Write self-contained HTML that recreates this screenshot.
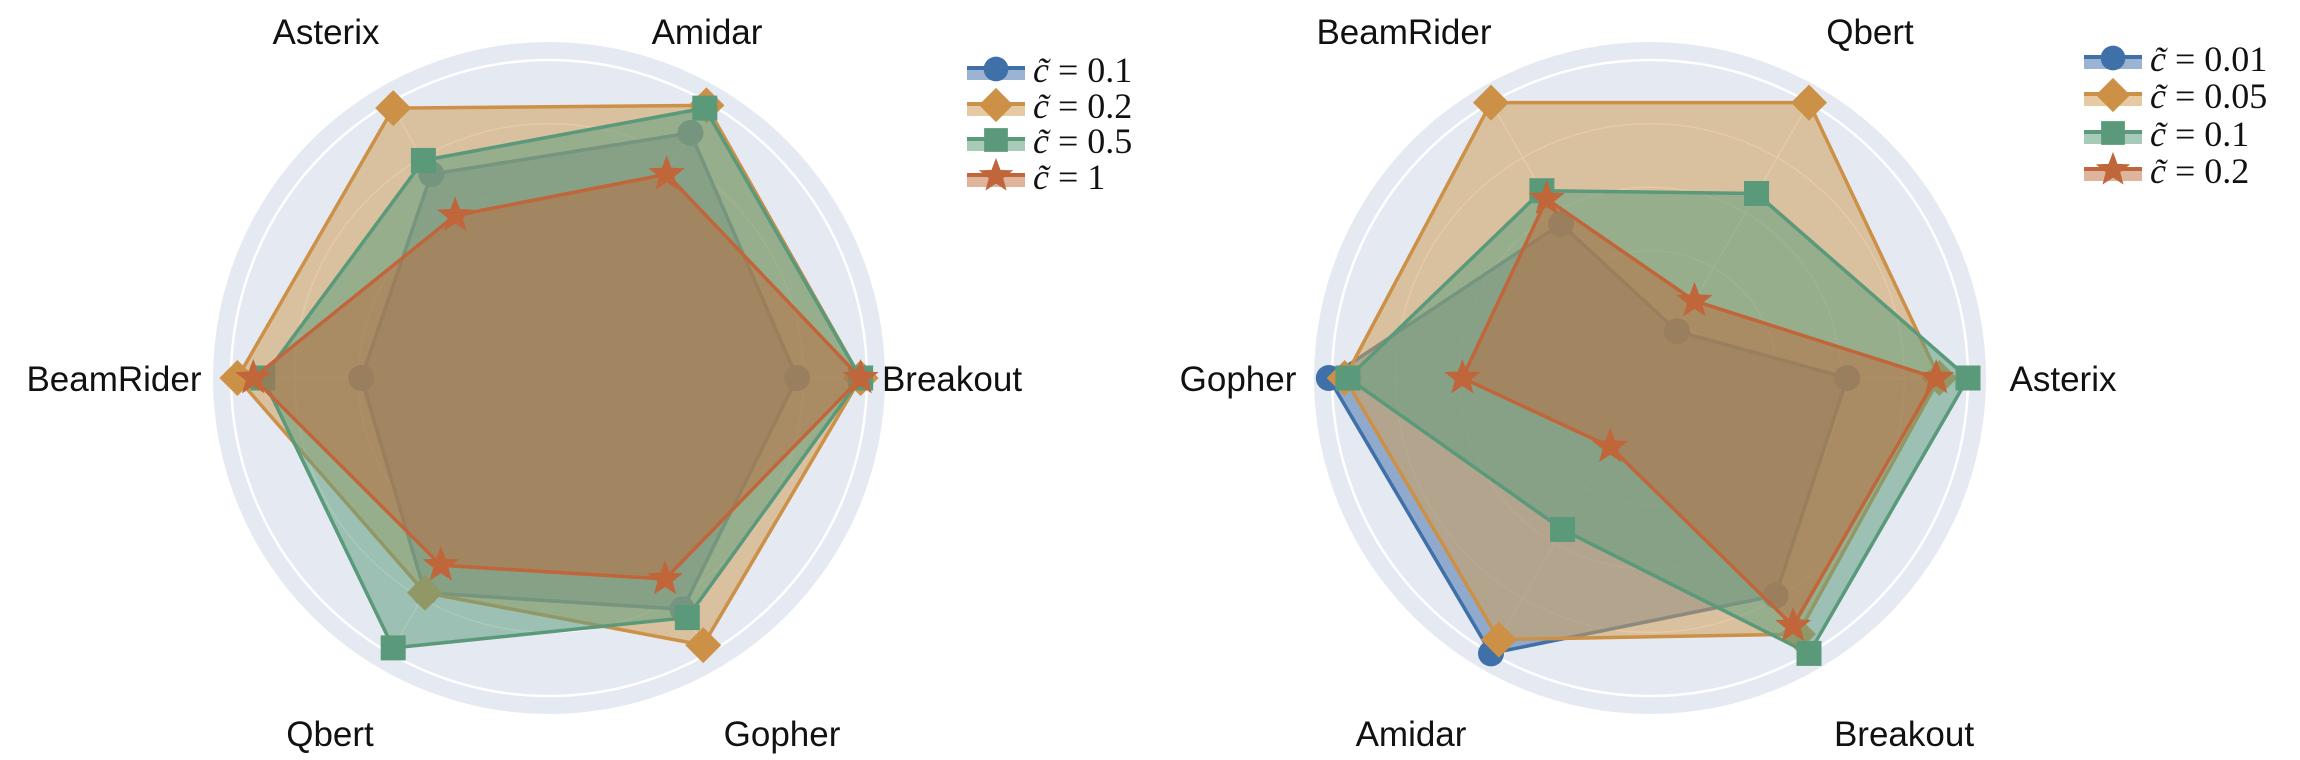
<!DOCTYPE html>
<html><head><meta charset="utf-8">
<style>
html,body{margin:0;padding:0;background:#fff;}
svg{display:block;}
.lab{font-family:"Liberation Sans",sans-serif;font-size:35px;fill:#111;}
.leg{font-family:"Liberation Serif",serif;font-size:36px;fill:#111;}
</style></head>
<body>
<svg id="s" width="2300" height="760" viewBox="0 0 2300 760" xmlns="http://www.w3.org/2000/svg">
<g id="g"></g>
<text class="lab" x="326" y="44" text-anchor="middle">Asterix</text>
<text class="lab" x="707" y="44" text-anchor="middle">Amidar</text>
<text class="lab" x="952" y="391" text-anchor="middle">Breakout</text>
<text class="lab" x="114" y="391" text-anchor="middle">BeamRider</text>
<text class="lab" x="330" y="746" text-anchor="middle">Qbert</text>
<text class="lab" x="782" y="746" text-anchor="middle">Gopher</text>
<text class="lab" x="1404" y="44" text-anchor="middle">BeamRider</text>
<text class="lab" x="1870" y="44" text-anchor="middle">Qbert</text>
<text class="lab" x="2063" y="391" text-anchor="middle">Asterix</text>
<text class="lab" x="1238" y="391" text-anchor="middle">Gopher</text>
<text class="lab" x="1411" y="746" text-anchor="middle">Amidar</text>
<text class="lab" x="1904" y="746" text-anchor="middle">Breakout</text>
</svg>
<script>
var NS="http://www.w3.org/2000/svg";
var svg=document.getElementById('g');
function el(t,a){var e=document.createElementNS(NS,t);for(var k in a)e.setAttribute(k,a[k]);svg.appendChild(e);return e;}
var cols=[{c:'#3f70a8',f:'rgba(74,118,176,0.55)',m:'circle'},{c:'#cc9147',f:'rgba(208,158,90,0.55)',m:'diamond'},{c:'#5a997a',f:'rgba(96,158,128,0.55)',m:'square'},{c:'#c0663a',f:'rgba(190,105,60,0.5)',m:'star'}];
function marker(type,x,y,col,s){
 s=s||1;
 if(type=='circle')el('circle',{cx:x,cy:y,r:13*s,fill:col});
 else if(type=='diamond'){var d=18*s;el('polygon',{points:(x)+','+(y-d)+' '+(x+d)+','+y+' '+x+','+(y+d)+' '+(x-d)+','+y,fill:col});}
 else if(type=='square'){var h=12.5*s;el('rect',{x:x-h,y:y-h,width:2*h,height:2*h,fill:col});}
 else{var p=[];for(var i=0;i<10;i++){var r=(i%2?8:19)*s,a=-Math.PI/2+i*Math.PI/5;p.push((x+r*Math.cos(a)).toFixed(1)+','+(y+r*Math.sin(a)).toFixed(1));}el('polygon',{points:p.join(' '),fill:col});}
}
function chart(cx,cy,vals){
 var R=318;
 el('circle',{cx:cx,cy:cy,r:336,fill:'#e5e9f2'});
 [0.2,0.4,0.6,0.8,1].forEach(function(f){el('circle',{cx:cx,cy:cy,r:R*f,fill:'none',stroke:'#fff','stroke-width':f==1?2.5:1.5});});
 for(var k=0;k<6;k++){var a=k*Math.PI/3;el('line',{x1:cx,y1:cy,x2:cx+R*Math.cos(a),y2:cy-R*Math.sin(a),stroke:'#fff','stroke-width':1.5});}
 vals.forEach(function(v,i){
  var pts=v.map(function(r,k){var a=k*Math.PI/3;return [cx+R*r*Math.cos(a),cy-R*r*Math.sin(a)];});
  el('polygon',{points:pts.map(function(p){return p[0].toFixed(1)+','+p[1].toFixed(1)}).join(' '),fill:cols[i].f,stroke:cols[i].c,'stroke-width':3.5,'stroke-linejoin':'round'});
  pts.forEach(function(p){marker(cols[i].m,p[0],p[1],cols[i].c);});
 });
}
chart(549,378,[[0.78,0.89,0.74,0.59,0.78,0.84],[0.98,0.99,0.98,0.98,0.78,0.97],[0.98,0.98,0.79,0.9,0.98,0.87],[0.98,0.74,0.59,0.93,0.68,0.73]]);
chart(1650,378,[[0.62,0.17,0.56,1.01,1.0,0.79],[0.91,1.0,1.0,0.96,0.95,0.93],[1.0,0.67,0.68,0.95,0.55,1.0],[0.9,0.28,0.65,0.59,0.25,0.9]]);
function legend(x0,ys,labels){
 ys.forEach(function(y,i){
  el('rect',{x:x0,y:y,width:58,height:11,fill:cols[i].f});
  el('rect',{x:x0,y:y-3,width:58,height:4,fill:cols[i].c});
  marker(cols[i].m,x0+29,y,cols[i].c,0.95);
  var t=el('text',{x:x0+66,y:y+13,'class':'leg'});
  t.innerHTML='<tspan font-style="italic">c̃</tspan> = '+labels[i];
 });
}
legend(967,[69,105,140,176],['0.1','0.2','0.5','1']);
legend(2084,[58,95,133,170],['0.01','0.05','0.1','0.2']);
</script>
</body></html>
